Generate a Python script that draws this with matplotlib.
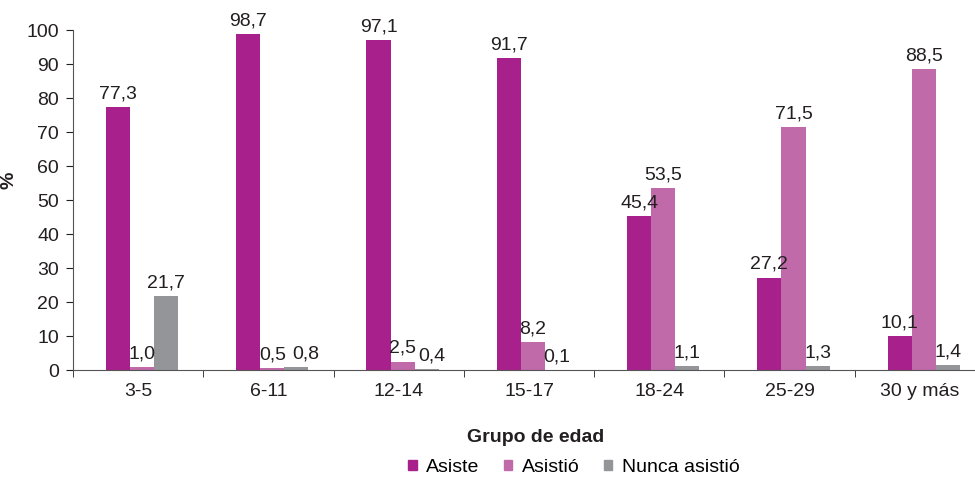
import matplotlib
matplotlib.use("Agg")
import matplotlib.pyplot as plt
import numpy as np

plt.rcParams["font.family"] = ["Liberation Sans", "DejaVu Sans"]

groups = ["3-5", "6-11", "12-14", "15-17", "18-24", "25-29", "30 y más"]
asiste = [77.3, 98.7, 97.1, 91.7, 45.4, 27.2, 10.1]
asistio = [1.0, 0.5, 2.5, 8.2, 53.5, 71.5, 88.5]
nunca = [21.7, 0.8, 0.4, 0.1, 1.1, 1.3, 1.4]

series = [("Asiste", asiste, "#A8208C"),
          ("Asistió", asistio, "#C06AAA"),
          ("Nunca asistió", nunca, "#939598")]

# small label nudges (points) where labels would collide
nudge = {(2, 1): 7, (2, 2): 4}

fig = plt.figure(figsize=(9.75, 4.81), dpi=100)
ax = fig.add_axes([73 / 975, 1 - 371 / 481, 912 / 975, 340 / 481])

x = np.arange(len(groups))
w = 0.185
for k, (name, vals, color) in enumerate(series):
    pos = x + (k - 1) * w + 0.03
    bars = ax.bar(pos, vals, w, color=color, label=name)
    for i, (b, v) in enumerate(zip(bars, vals)):
        ax.annotate(f"{v:.1f}".replace(".", ","),
                    (b.get_x() + b.get_width() / 2, v),
                    xytext=(nudge.get((k, i), 0), 4), textcoords="offset points",
                    ha="center", va="bottom", fontsize=14, color="#231f20")

ax.set_ylim(0, 100)
ax.set_xlim(-0.5, len(groups) - 0.5)
ax.set_yticks(range(0, 101, 10))
ax.set_xticks(x)
ax.set_xticklabels(groups)
ax.set_xticks(np.arange(-0.5, len(groups), 1), minor=True)
ax.tick_params(axis="x", which="major", length=0, pad=9, labelsize=14, colors="#231f20")
ax.tick_params(axis="x", which="minor", length=5, direction="out", color="#231f20")
ax.tick_params(axis="y", length=5, labelsize=14, colors="#231f20", pad=5)
for s in ["top", "right"]:
    ax.spines[s].set_visible(False)
ax.spines["left"].set_color("#555555")
ax.spines["bottom"].set_color("#555555")

ax.set_ylabel("%", fontsize=14, fontweight="bold", color="#231f20")
ax.yaxis.set_label_coords((18 - 73) / 912, 0.56)
fig.text(536 / 975, 1 - 438 / 481, "Grupo de edad", ha="center", va="center",
         fontsize=14, fontweight="bold", color="#231f20")

handles = [plt.Rectangle((0, 0), 1, 1, color=c) for _, _, c in series]
fig.legend(handles, [n for n, _, _ in series], loc="center", ncol=3,
           bbox_to_anchor=(574 / 975, 1 - 468 / 481), frameon=False,
           fontsize=14, handlelength=0.42, handleheight=0.42, columnspacing=1.25,
           handletextpad=0.5, borderpad=0)

fig.savefig("out.png", dpi=100)
